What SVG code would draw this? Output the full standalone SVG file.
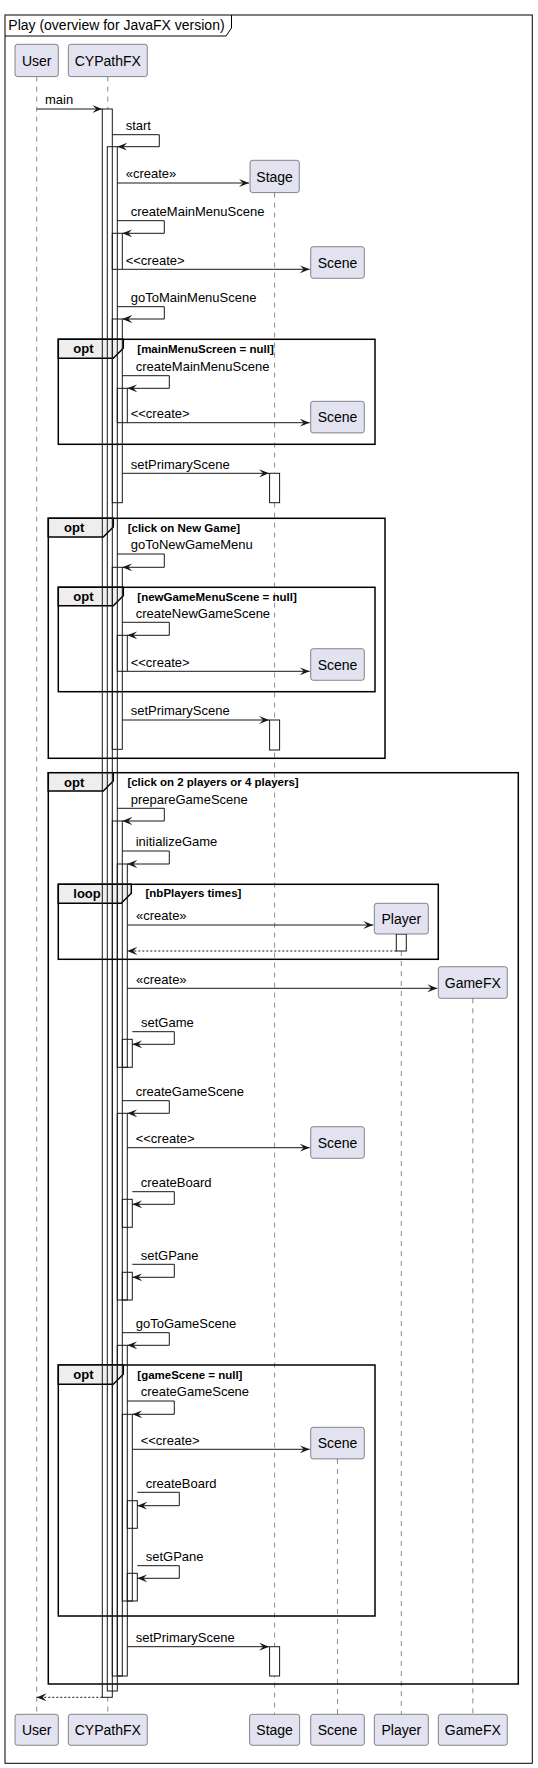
<svg xmlns="http://www.w3.org/2000/svg" width="538" height="1768" viewBox="0 0 538 1768">
<defs>
<marker id="ah" viewBox="0 0 10 8" refX="10" refY="4" markerWidth="10" markerHeight="8" markerUnits="userSpaceOnUse" orient="auto"><path d="M0,0 L10,4 L0,8 L4,4 Z" fill="#181818"/></marker>
</defs>
<style>
.t{font-family:"Liberation Sans",Arial,sans-serif;fill:#000}
.pn{font-size:14px;text-anchor:middle}
.msg{font-size:13px}
.kw{font-size:13px;font-weight:bold}
.gd{font-size:11.5px;font-weight:bold}
.box{fill:#E2E2F0;stroke:#181818;stroke-width:0.5}
.ll{stroke:#181818;stroke-width:0.5;stroke-dasharray:5,5;fill:none}
.actf{fill:#fff;stroke:none}
.acto{fill:none;stroke:#181818;stroke-width:1}
.fr{fill:none;stroke:#000;stroke-width:1.5}
.tab{fill:#EEEEEE;stroke:#000;stroke-width:1.5}
.m{fill:none;stroke:#181818;stroke-width:1;marker-end:url(#ah)}
.r{fill:none;stroke:#181818;stroke-width:1;stroke-dasharray:2,2;marker-end:url(#ah)}
</style>
<g id="mainframe">
<rect x="5" y="15" width="527.3" height="1748.3" fill="#fff" stroke="#000" stroke-width="1"/>
<path d="M5,36 H226 L231.5,28 V15" fill="none" stroke="#000" stroke-width="1"/>
<text class="t" x="8.3" y="30" font-size="14">Play (overview for JavaFX version)</text>
</g>
<g id="lifelines">
<line class="ll" x1="36.7" y1="76.6" x2="36.7" y2="1714.3"/>
<line class="ll" x1="107.8" y1="76.6" x2="107.8" y2="1714.3"/>
<line class="ll" x1="274.6" y1="192.6" x2="274.6" y2="1714.3"/>
<line class="ll" x1="337.5" y1="1459" x2="337.5" y2="1714.3"/>
<line class="ll" x1="401.3" y1="951" x2="401.3" y2="1714.3"/>
<line class="ll" x1="472.8" y1="998.3" x2="472.8" y2="1714.3"/>
</g>
<g id="activation-fills" class="actf">
<rect x="102.3" y="109" width="10" height="1588.3"/>
<rect x="107.3" y="146.7" width="10" height="1544.3"/>
<rect x="112.3" y="233.3" width="10" height="36"/>
<rect x="112.3" y="319" width="10" height="183.7"/>
<rect x="117.3" y="388.3" width="10" height="34.4"/>
<rect x="269.6" y="473.3" width="10" height="29.4"/>
<rect x="112.3" y="567.3" width="10" height="182"/>
<rect x="117.3" y="635.3" width="10" height="36"/>
<rect x="269.6" y="720" width="10" height="30"/>
<rect x="112.3" y="821" width="10" height="855"/>
<rect x="117.3" y="864" width="10" height="203.3"/>
<rect x="396.3" y="934" width="10" height="17"/>
<rect x="122.3" y="1039.3" width="10" height="28"/>
<rect x="117.3" y="1113.3" width="10" height="186.7"/>
<rect x="122.3" y="1199.3" width="10" height="28"/>
<rect x="122.3" y="1272.3" width="10" height="27.7"/>
<rect x="117.3" y="1345.3" width="10" height="330.7"/>
<rect x="122.3" y="1414.3" width="10" height="186.7"/>
<rect x="127.3" y="1500.7" width="10" height="27.6"/>
<rect x="127.3" y="1573.3" width="10" height="27.7"/>
<rect x="269.6" y="1646.7" width="10" height="29.3"/>
</g>
<g id="frag-opt-mainMenu">
<rect class="fr" x="58.3" y="339.3" width="316.7" height="105"/>
<path class="tab" d="M58.3,339.3 H123.3 V348.3 L113.3,358.3 H58.3 Z"/>
<text class="t kw" x="73.3" y="353.3">opt</text>
<text class="t gd" x="137.3" y="352.7">[mainMenuScreen = null]</text>
</g>
<g id="frag-opt-newGame">
<rect class="fr" x="48.3" y="518.3" width="336.7" height="240"/>
<path class="tab" d="M48.3,518.3 H113.3 V527 L103.3,537 H48.3 Z"/>
<text class="t kw" x="64" y="532">opt</text>
<text class="t gd" x="127.7" y="531.7">[click on New Game]</text>
</g>
<g id="frag-opt-newGameMenu">
<rect class="fr" x="58.3" y="587.3" width="316.7" height="104.4"/>
<path class="tab" d="M58.3,587.3 H123.3 V595.7 L113.3,605.7 H58.3 Z"/>
<text class="t kw" x="73.3" y="601.3">opt</text>
<text class="t gd" x="137.3" y="600.7">[newGameMenuScene = null]</text>
</g>
<g id="frag-opt-players">
<rect class="fr" x="48.3" y="772.7" width="470" height="911.3"/>
<path class="tab" d="M48.3,772.7 H113.3 V781 L103.3,791 H48.3 Z"/>
<text class="t kw" x="64" y="786.7">opt</text>
<text class="t gd" x="127.4" y="786">[click on 2 players or 4 players]</text>
</g>
<g id="frag-loop">
<rect class="fr" x="58.3" y="884.3" width="380" height="75"/>
<path class="tab" d="M58.3,884.3 H131.3 V893.3 L121.3,903.3 H58.3 Z"/>
<text class="t kw" x="73.3" y="898.3">loop</text>
<text class="t gd" x="145.5" y="897.3">[nbPlayers times]</text>
</g>
<g id="frag-opt-gameScene">
<rect class="fr" x="58.3" y="1365" width="316.7" height="251"/>
<path class="tab" d="M58.3,1365 H123.3 V1374.3 L113.3,1384.3 H58.3 Z"/>
<text class="t kw" x="73.3" y="1379">opt</text>
<text class="t gd" x="137.3" y="1379">[gameScene = null]</text>
</g>
<g id="activation-outlines" class="acto">
<rect x="102.3" y="109" width="10" height="1588.3"/>
<rect x="107.3" y="146.7" width="10" height="1544.3"/>
<rect x="112.3" y="233.3" width="10" height="36"/>
<rect x="112.3" y="319" width="10" height="183.7"/>
<rect x="117.3" y="388.3" width="10" height="34.4"/>
<rect x="269.6" y="473.3" width="10" height="29.4"/>
<rect x="112.3" y="567.3" width="10" height="182"/>
<rect x="117.3" y="635.3" width="10" height="36"/>
<rect x="269.6" y="720" width="10" height="30"/>
<rect x="112.3" y="821" width="10" height="855"/>
<rect x="117.3" y="864" width="10" height="203.3"/>
<rect x="396.3" y="934" width="10" height="17"/>
<rect x="122.3" y="1039.3" width="10" height="28"/>
<rect x="117.3" y="1113.3" width="10" height="186.7"/>
<rect x="122.3" y="1199.3" width="10" height="28"/>
<rect x="122.3" y="1272.3" width="10" height="27.7"/>
<rect x="117.3" y="1345.3" width="10" height="330.7"/>
<rect x="122.3" y="1414.3" width="10" height="186.7"/>
<rect x="127.3" y="1500.7" width="10" height="27.6"/>
<rect x="127.3" y="1573.3" width="10" height="27.7"/>
<rect x="269.6" y="1646.7" width="10" height="29.3"/>
</g>
<g id="p-user-top"><rect class="box" x="15" y="44.3" width="43.3" height="32.3" rx="2.5"/><text class="t pn" x="36.7" y="65.5">User</text></g>
<g id="p-cypathfx-top"><rect class="box" x="68.3" y="44.3" width="79" height="32.3" rx="2.5"/><text class="t pn" x="107.8" y="65.5">CYPathFX</text></g>
<g id="p-stage-create"><rect class="box" x="250" y="160.3" width="49.3" height="32.3" rx="2.5"/><text class="t pn" x="274.6" y="181.5">Stage</text></g>
<g id="p-scene-1"><rect class="box" x="310.7" y="246.7" width="53.6" height="31.6" rx="2.5"/><text class="t pn" x="337.5" y="267.5">Scene</text></g>
<g id="p-scene-2"><rect class="box" x="310.7" y="401.3" width="53.6" height="31.6" rx="2.5"/><text class="t pn" x="337.5" y="422.1">Scene</text></g>
<g id="p-scene-3"><rect class="box" x="310.7" y="648.7" width="53.6" height="31.6" rx="2.5"/><text class="t pn" x="337.5" y="669.5">Scene</text></g>
<g id="p-player-create"><rect class="box" x="374.3" y="903.3" width="54" height="30.7" rx="2.5"/><text class="t pn" x="401.3" y="923.8">Player</text></g>
<g id="p-gamefx-create"><rect class="box" x="438.3" y="966.7" width="69" height="31.6" rx="2.5"/><text class="t pn" x="472.8" y="987.5">GameFX</text></g>
<g id="p-scene-4"><rect class="box" x="310.7" y="1126.7" width="53.6" height="31.6" rx="2.5"/><text class="t pn" x="337.5" y="1147.5">Scene</text></g>
<g id="p-scene-5"><rect class="box" x="310.7" y="1427.3" width="53.6" height="31.6" rx="2.5"/><text class="t pn" x="337.5" y="1448.1">Scene</text></g>
<g id="p-user-bottom"><rect class="box" x="15" y="1714.3" width="43.3" height="31" rx="2.5"/><text class="t pn" x="36.7" y="1734.8">User</text></g>
<g id="p-cypathfx-bottom"><rect class="box" x="68.3" y="1714.3" width="79" height="31" rx="2.5"/><text class="t pn" x="107.8" y="1734.8">CYPathFX</text></g>
<g id="p-stage-bottom"><rect class="box" x="249.6" y="1714.3" width="50" height="31" rx="2.5"/><text class="t pn" x="274.6" y="1734.8">Stage</text></g>
<g id="p-scene-bottom"><rect class="box" x="310.7" y="1714.3" width="53.6" height="31" rx="2.5"/><text class="t pn" x="337.5" y="1734.8">Scene</text></g>
<g id="p-player-bottom"><rect class="box" x="374.3" y="1714.3" width="54" height="31" rx="2.5"/><text class="t pn" x="401.3" y="1734.8">Player</text></g>
<g id="p-gamefx-bottom"><rect class="box" x="438.3" y="1714.3" width="69" height="31" rx="2.5"/><text class="t pn" x="472.8" y="1734.8">GameFX</text></g>
<g id="connectors">
<line class="m" x1="36.7" y1="109" x2="102.3" y2="109"/>
<polyline class="m" points="112.3,134.7 159.3,134.7 159.3,146.7 117.3,146.7"/>
<line class="m" x1="117.3" y1="183" x2="249" y2="183"/>
<polyline class="m" points="117.3,220.7 164.3,220.7 164.3,233.3 122.3,233.3"/>
<line class="m" x1="122.3" y1="269.3" x2="309.7" y2="269.3"/>
<polyline class="m" points="117.3,306.7 164.3,306.7 164.3,319 122.3,319"/>
<polyline class="m" points="122.3,375.7 169.3,375.7 169.3,388.3 127.3,388.3"/>
<line class="m" x1="127.3" y1="422.7" x2="309.7" y2="422.7"/>
<line class="m" x1="122.3" y1="473.3" x2="269.1" y2="473.3"/>
<polyline class="m" points="117.3,554 164.3,554 164.3,567.3 122.3,567.3"/>
<polyline class="m" points="122.3,622.3 169.3,622.3 169.3,635.3 127.3,635.3"/>
<line class="m" x1="127.3" y1="671.3" x2="309.7" y2="671.3"/>
<line class="m" x1="122.3" y1="720" x2="269.1" y2="720"/>
<polyline class="m" points="117.3,808.3 164.3,808.3 164.3,821 122.3,821"/>
<polyline class="m" points="122.3,851 169.3,851 169.3,864 127.3,864"/>
<line class="m" x1="127.3" y1="925" x2="373.3" y2="925"/>
<line class="r" x1="396.3" y1="951" x2="127.3" y2="951"/>
<line class="m" x1="127.3" y1="988.3" x2="437.3" y2="988.3"/>
<polyline class="m" points="132.3,1031.7 174.3,1031.7 174.3,1044.3 132.3,1044.3"/>
<polyline class="m" points="122.3,1100.7 169.3,1100.7 169.3,1113.3 127.3,1113.3"/>
<line class="m" x1="127.3" y1="1147.7" x2="309.7" y2="1147.7"/>
<polyline class="m" points="132.3,1191.7 174.3,1191.7 174.3,1204.3 132.3,1204.3"/>
<polyline class="m" points="132.3,1264.3 174.3,1264.3 174.3,1277.3 132.3,1277.3"/>
<polyline class="m" points="122.3,1332.7 169.3,1332.7 169.3,1345.3 127.3,1345.3"/>
<polyline class="m" points="127.3,1401 174.3,1401 174.3,1414.3 132.3,1414.3"/>
<line class="m" x1="132.3" y1="1449.3" x2="309.7" y2="1449.3"/>
<polyline class="m" points="137.3,1492.3 179.3,1492.3 179.3,1505.7 137.3,1505.7"/>
<polyline class="m" points="137.3,1565.7 179.3,1565.7 179.3,1578.3 137.3,1578.3"/>
<line class="m" x1="127.3" y1="1646.7" x2="269.1" y2="1646.7"/>
<line class="r" x1="102.3" y1="1697.3" x2="36.7" y2="1697.3"/>
<g class="t msg">
<text x="45" y="104.3">main</text>
<text x="125.7" y="130">start</text>
<text x="125.7" y="178.3">«create»</text>
<text x="130.7" y="216">createMainMenuScene</text>
<text x="125.7" y="264.6">&lt;&lt;create&gt;</text>
<text x="130.7" y="302">goToMainMenuScene</text>
<text x="135.7" y="371">createMainMenuScene</text>
<text x="130.7" y="418">&lt;&lt;create&gt;</text>
<text x="130.7" y="468.6">setPrimaryScene</text>
<text x="130.7" y="549.3">goToNewGameMenu</text>
<text x="135.7" y="617.6">createNewGameScene</text>
<text x="130.7" y="666.6">&lt;&lt;create&gt;</text>
<text x="130.7" y="715.3">setPrimaryScene</text>
<text x="130.7" y="803.6">prepareGameScene</text>
<text x="135.7" y="846.3">initializeGame</text>
<text x="136" y="920.3">«create»</text>
<text x="136" y="983.6">«create»</text>
<text x="141" y="1027">setGame</text>
<text x="135.7" y="1096">createGameScene</text>
<text x="135.7" y="1143">&lt;&lt;create&gt;</text>
<text x="140.7" y="1187">createBoard</text>
<text x="140.7" y="1259.6">setGPane</text>
<text x="135.7" y="1328">goToGameScene</text>
<text x="140.7" y="1396.3">createGameScene</text>
<text x="140.7" y="1444.6">&lt;&lt;create&gt;</text>
<text x="145.7" y="1487.6">createBoard</text>
<text x="145.7" y="1561">setGPane</text>
<text x="135.7" y="1642">setPrimaryScene</text>
</g>
</g>
</svg>
